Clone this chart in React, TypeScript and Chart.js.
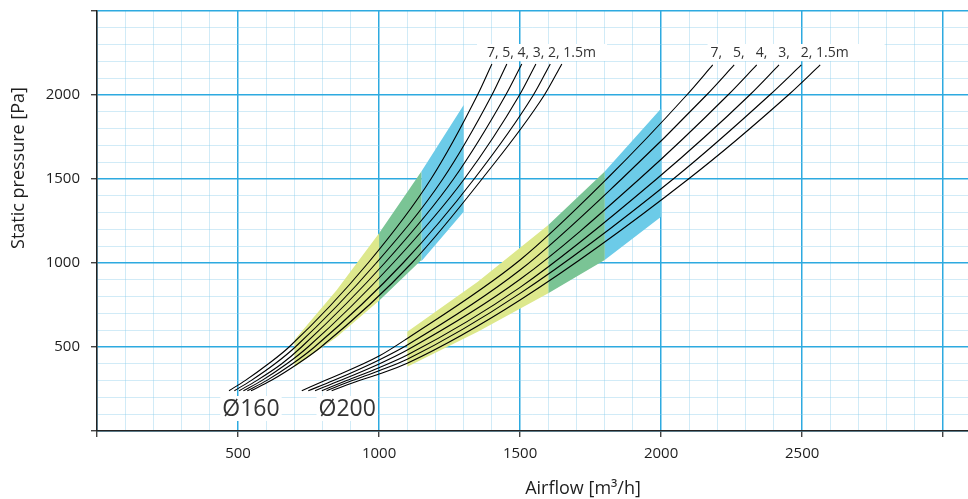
import React, { useEffect, useRef } from 'react';
import { Chart, registerables } from 'chart.js';

Chart.register(...registerables);

// ---------- data ----------
const X_TICK_LABELS = [500, 1000, 1500, 2000, 2500];
const Y_TICK_LABELS = [500, 1000, 1500, 2000];
const X_MAX = 3088;
const Y_MAX = 2500;

const LENGTH_LABEL_160 = '7, 5, 4, 3, 2, 1.5m';
const LENGTH_LABEL_200 = '7,   5,   4,   3,   2, 1.5m';
const DIAMETERS = ['Ø160', 'Ø200'];

// Ø160 curves: airflow read at fixed pressure levels
const d160Pressure = [240, 300, 400, 500, 1000, 1500, 2000, 2185];
const d160Flow7m = [468, 525, 608, 681, 961, 1184, 1349, 1400];
const d160Flow5m = [487, 546, 631, 703, 990, 1226, 1400, 1453];
const d160Flow4m = [504, 566, 655, 725, 1020, 1264, 1449, 1506];
const d160Flow3m = [519, 584, 673, 748, 1050, 1302, 1498, 1556];
const d160Flow2m = [533, 601, 693, 771, 1085, 1337, 1547, 1607];
const d160Flow15m = [546, 617, 712, 794, 1116, 1365, 1586, 1648];

// Ø200 curves: [airflow, pressure] points
const d200Curve7m = [[726, 240], [808, 300], [1000, 446], [1100, 551], [1500, 1018], [1807, 1500], [2091, 2000], [2183, 2179]];
const d200Curve5m = [[749, 240], [838, 300], [1000, 423], [1100, 512], [1500, 958], [1860, 1500], [2161, 2000], [2259, 2179]];
const d200Curve4m = [[773, 240], [862, 300], [1000, 399], [1100, 482], [1500, 903], [1923, 1500], [2237, 2000], [2339, 2179]];
const d200Curve3m = [[797, 240], [885, 300], [1000, 377], [1100, 452], [1500, 855], [1984, 1500], [2314, 2000], [2418, 2179]];
const d200Curve2m = [[814, 240], [905, 300], [1000, 359], [1100, 427], [1500, 819], [2043, 1500], [2385, 2000], [2497, 2179]];
const d200Curve15m = [[832, 240], [930, 300], [1000, 339], [1100, 403], [1500, 780], [2097, 1500], [2451, 2000], [2564, 2179]];

// operating-range bands (polygon outlines: top edge left→right, bottom edge right→left)
const band160Yellow = [[700, 542], [850, 840], [1000, 1177], [1000, 775], [850, 560], [700, 381]];
const band160Green = [[1000, 1177], [1150, 1544], [1150, 1018], [1000, 775]];
const band160Blue = [[1150, 1544], [1300, 1940], [1300, 1305], [1150, 1010]];
const band200Yellow = [[1100, 591], [1350, 889], [1600, 1226], [1600, 820], [1350, 591], [1100, 383]];
const band200Green = [[1600, 1226], [1800, 1544], [1800, 1018], [1600, 820]];
const band200Blue = [[1800, 1544], [2000, 1920], [2000, 1276], [1800, 1018]];

// ---------- styles ----------
const FONT = '"Open Sans", "Noto Sans", "DejaVu Sans", sans-serif';
const YELLOW = 'rgb(221,232,140)';
const GREEN = 'rgb(122,196,149)';
const BLUE = 'rgb(108,203,232)';
const MAJOR = 'rgb(45,170,224)';
const MINOR = 'rgba(140,205,236,0.4)';
const TEXT = '#1e1e1e';

const pts = (arr: number[][]) => arr.map(([x, y]) => ({ x, y }));
const ptsFromLevels = (flows: number[]) => flows.map((x, i) => ({ x, y: d160Pressure[i] }));

const curveDs = (data: { x: number; y: number }[]) => ({
  data,
  showLine: true,
  borderColor: '#000',
  borderWidth: 1.1,
  pointRadius: 0,
  fill: false,
  cubicInterpolationMode: 'monotone' as const,
  order: 1,
});

const bandDs = (data: { x: number; y: number }[], color: string) => ({
  data,
  showLine: true,
  borderWidth: 0,
  borderColor: 'rgba(0,0,0,0)',
  backgroundColor: color,
  pointRadius: 0,
  tension: 0,
  fill: 'shape' as const,
  order: 10,
});

const textPlugin = {
  id: 'chartTexts',
  afterDatasetsDraw(chart: any) {
    const { ctx } = chart;
    const xs = chart.scales.x;
    const ys = chart.scales.y;
    ctx.save();

    ctx.font = `23px ${FONT}`;
    ctx.textBaseline = 'middle';
    ctx.textAlign = 'center';
    const diaPos = [[546, 137], [887, 137]];
    DIAMETERS.forEach((t, i) => {
      const px = xs.getPixelForValue(diaPos[i][0]);
      const py = ys.getPixelForValue(diaPos[i][1]);
      const w = ctx.measureText(t).width;
      ctx.fillStyle = '#fff';
      ctx.fillRect(px - w / 2 - 2, py - 12, w + 4, 25);
      ctx.fillStyle = '#333';
      ctx.fillText(t, px, py + 1);
    });

    ctx.font = `14px ${FONT}`;
    const lenLabels = [
      { t: LENGTH_LABEL_160, x: 1576, padL: 10, padR: 11 },
      { t: LENGTH_LABEL_200, x: 2420, padL: 3, padR: 36 },
    ];
    lenLabels.forEach((l) => {
      const px = xs.getPixelForValue(l.x);
      const py = ys.getPixelForValue(2256);
      const w = ctx.measureText(l.t).width;
      ctx.fillStyle = '#fff';
      ctx.fillRect(px - w / 2 - l.padL, py - 8, w + l.padL + l.padR, 17);
      ctx.fillStyle = '#333';
      ctx.fillText(l.t, px, py + 1);
    });
    ctx.restore();
  },
  afterDraw(chart: any) {
    const { ctx } = chart;
    ctx.save();
    ctx.font = `18px ${FONT}`;
    ctx.fillStyle = TEXT;
    ctx.textAlign = 'center';
    ctx.textBaseline = 'middle';
    ctx.fillText('Airflow [m³/h]', 583, 489);
    ctx.translate(19, 168);
    ctx.rotate(-Math.PI / 2);
    ctx.fillText('Static pressure [Pa]', 0, 0);
    ctx.restore();
  },
};

const isMajor = (v: number) => Math.round(v) % 500 === 0;

const gridOpts = {
  color: (c: any) => (c.tick && isMajor(c.tick.value) ? MAJOR : MINOR),
  lineWidth: (c: any) => (c.tick && isMajor(c.tick.value) ? 1.5 : 1),
  tickColor: (c: any) => (c.tick && isMajor(c.tick.value) ? '#222' : 'rgba(0,0,0,0)'),
  tickLength: 6,
  tickWidth: 1.2,
};

export default function App() {
  const ref = useRef<HTMLCanvasElement>(null);
  useEffect(() => {
    document.body.style.margin = '0';
    const chart = new Chart(ref.current as HTMLCanvasElement, {
      type: 'scatter',
      data: {
        datasets: [
          bandDs(pts(band160Yellow), YELLOW),
          bandDs(pts(band160Green), GREEN),
          bandDs(pts(band160Blue), BLUE),
          bandDs(pts(band200Yellow), YELLOW),
          bandDs(pts(band200Green), GREEN),
          bandDs(pts(band200Blue), BLUE),
          curveDs(ptsFromLevels(d160Flow7m)),
          curveDs(ptsFromLevels(d160Flow5m)),
          curveDs(ptsFromLevels(d160Flow4m)),
          curveDs(ptsFromLevels(d160Flow3m)),
          curveDs(ptsFromLevels(d160Flow2m)),
          curveDs(ptsFromLevels(d160Flow15m)),
          curveDs(pts(d200Curve7m)),
          curveDs(pts(d200Curve5m)),
          curveDs(pts(d200Curve4m)),
          curveDs(pts(d200Curve3m)),
          curveDs(pts(d200Curve2m)),
          curveDs(pts(d200Curve15m)),
        ] as any,
      },
      options: {
        animation: false,
        responsive: true,
        maintainAspectRatio: false,
        events: [],
        layout: { padding: { top: 11, right: 0, left: 0, bottom: 0 } },
        plugins: {
          legend: { display: false },
          tooltip: { enabled: false },
          filler: { drawTime: 'beforeDatasetsDraw' },
        } as any,
        scales: {
          x: {
            type: 'linear',
            min: 0,
            max: X_MAX,
            afterFit: (s: any) => { s.height = 68; s.paddingLeft = 0; s.paddingRight = 0; },
            border: { color: '#222', width: 1.5 },
            grid: gridOpts,
            ticks: {
              stepSize: 100,
              maxTicksLimit: 200,
              autoSkip: false,
              includeBounds: false,
              maxRotation: 0,
              minRotation: 0,
              padding: 8,
              color: TEXT,
              font: { family: FONT, size: 15 },
              callback: (v: any) => (X_TICK_LABELS.includes(Math.round(Number(v))) ? String(Math.round(Number(v))) : ''),
            },
          },
          y: {
            type: 'linear',
            min: 0,
            max: Y_MAX,
            afterFit: (s: any) => { s.width = 97; s.paddingTop = 0; s.paddingBottom = 0; },
            border: { color: '#222', width: 1.5 },
            grid: gridOpts,
            ticks: {
              stepSize: 100,
              maxTicksLimit: 200,
              autoSkip: false,
              includeBounds: false,
              padding: 11,
              color: TEXT,
              font: { family: FONT, size: 15 },
              callback: (v: any) => (Y_TICK_LABELS.includes(Math.round(Number(v))) ? String(Math.round(Number(v))) : ''),
            },
          },
        },
      },
      plugins: [textPlugin],
    });
    return () => chart.destroy();
  }, []);

  return (
    <div style={{ position: 'relative', width: 968, height: 499 }}>
      <canvas ref={ref} />
    </div>
  );
}
